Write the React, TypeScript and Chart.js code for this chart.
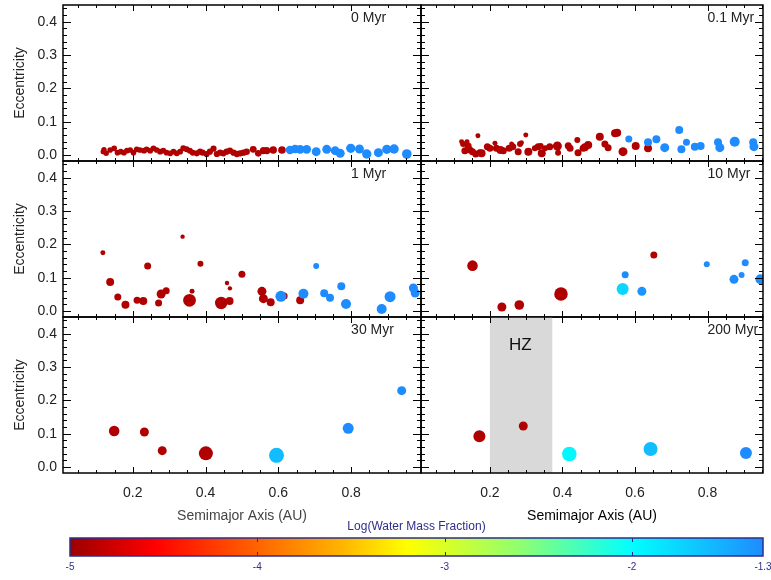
import React, { useEffect, useRef } from 'react';
import { Chart, registerables } from 'chart.js';

Chart.register(...registerables);

const FONT = '"Liberation Sans", Arial, Helvetica, sans-serif';
Chart.defaults.font.family = FONT;

// ---------------- data ----------------
const panelLabels = ['0 Myr', '0.1 Myr', '1 Myr', '10 Myr', '30 Myr', '200 Myr'];
const xTickVals = [0.2, 0.4, 0.6, 0.8];
const yTickVals = [0, 0.1, 0.2, 0.3, 0.4];
const cbTickVals = [-5, -4, -3, -2, -1.3];
const hzRange = [0.2, 0.372];
const cmapLog = [-5, -4.55, -4.0, -3.55, -3.2, -2.6, -2.0, -1.3];
const cmapHex = ['#9a0000', '#ff0000', '#ff6400', '#ffb400', '#ffff00', '#90ff70', '#00ffff', '#1e8cff'];

// 0 Myr : semimajor axis (AU), eccentricity, mass (Earth), log water mass fraction
const a0 = [0.119, 0.121, 0.127, 0.138, 0.149, 0.158, 0.167, 0.176, 0.184, 0.193, 0.202, 0.211, 0.220, 0.231, 0.238, 0.248, 0.257, 0.266, 0.275, 0.284, 0.293, 0.303, 0.312, 0.321, 0.330, 0.339, 0.348, 0.357, 0.365, 0.376, 0.385, 0.392, 0.403, 0.412, 0.422, 0.431, 0.440, 0.449, 0.458, 0.467, 0.477, 0.486, 0.495, 0.504, 0.513, 0.531, 0.545, 0.559, 0.568, 0.586, 0.610,
  0.632, 0.646, 0.660, 0.678, 0.704, 0.733, 0.756, 0.770, 0.799, 0.823, 0.843, 0.875, 0.898, 0.918, 0.953];
const e0 = [0.010, 0.016, 0.005, 0.015, 0.020, 0.007, 0.010, 0.007, 0.013, 0.015, 0.007, 0.017, 0.015, 0.013, 0.017, 0.013, 0.020, 0.015, 0.010, 0.013, 0.007, 0.005, 0.010, 0.005, 0.010, 0.020, 0.017, 0.013, 0.007, 0.005, 0.010, 0.007, 0.003, 0.010, 0.019, 0.003, 0.007, 0.005, 0.010, 0.013, 0.007, 0.003, 0.005, 0.007, 0.010, 0.017, 0.005, 0.013, 0.013, 0.015, 0.015,
  0.015, 0.018, 0.017, 0.017, 0.010, 0.017, 0.013, 0.005, 0.020, 0.018, 0.003, 0.007, 0.017, 0.018, 0.003];
const m0 = [0.26, 0.26, 0.28, 0.30, 0.30, 0.30, 0.30, 0.30, 0.30, 0.30, 0.30, 0.30, 0.32, 0.32, 0.32, 0.32, 0.32, 0.32, 0.32, 0.32, 0.32, 0.32, 0.34, 0.34, 0.34, 0.36, 0.36, 0.36, 0.36, 0.38, 0.38, 0.38, 0.40, 0.40, 0.40, 0.40, 0.40, 0.42, 0.42, 0.42, 0.42, 0.42, 0.44, 0.44, 0.46, 0.55, 0.50, 0.60, 0.62, 0.70, 0.75,
  1.00, 1.10, 1.10, 1.10, 1.20, 1.20, 1.10, 1.25, 1.30, 1.20, 1.40, 1.25, 1.30, 1.40, 1.50];
const w0 = [-4.9, -4.9, -4.9, -4.9, -4.9, -4.9, -4.9, -4.9, -4.9, -4.9, -4.9, -4.9, -4.9, -4.9, -4.9, -4.9, -4.9, -4.9, -4.9, -4.9, -4.9, -4.9, -4.9, -4.9, -4.9, -4.9, -4.9, -4.9, -4.9, -4.9, -4.9, -4.9, -4.9, -4.9, -4.9, -4.9, -4.9, -4.9, -4.9, -4.9, -4.9, -4.9, -4.9, -4.9, -4.9, -4.9, -4.9, -4.9, -4.9, -4.9, -4.9,
  -1.3, -1.3, -1.3, -1.3, -1.3, -1.3, -1.3, -1.3, -1.3, -1.3, -1.3, -1.3, -1.3, -1.3, -1.3];

// 0.1 Myr
const a01 = [0.122, 0.126, 0.131, 0.137, 0.140, 0.145, 0.152, 0.161, 0.167, 0.172, 0.177, 0.193, 0.200, 0.214, 0.218, 0.229, 0.237, 0.253, 0.260, 0.263, 0.278, 0.283, 0.287, 0.299, 0.306, 0.324, 0.333, 0.340, 0.343, 0.352, 0.365, 0.386, 0.388, 0.416, 0.421, 0.441, 0.443, 0.457, 0.462, 0.471, 0.503, 0.517, 0.526, 0.545, 0.551, 0.567, 0.602, 0.636,
  0.583, 0.636, 0.659, 0.682, 0.722, 0.728, 0.742, 0.765, 0.781, 0.829, 0.834, 0.875, 0.926, 0.928];
const e01 = [0.040, 0.033, 0.013, 0.040, 0.027, 0.015, 0.010, 0.003, 0.058, 0.007, 0.005, 0.025, 0.020, 0.035, 0.020, 0.015, 0.013, 0.020, 0.033, 0.025, 0.010, 0.033, 0.037, 0.060, 0.010, 0.020, 0.025, 0.027, 0.005, 0.020, 0.025, 0.027, 0.007, 0.028, 0.020, 0.045, 0.007, 0.020, 0.023, 0.030, 0.055, 0.033, 0.022, 0.065, 0.067, 0.010, 0.027, 0.020,
  0.048, 0.038, 0.047, 0.022, 0.075, 0.017, 0.038, 0.025, 0.027, 0.038, 0.022, 0.040, 0.038, 0.025];
const m01 = [0.21, 0.36, 0.58, 0.21, 0.58, 0.58, 0.58, 0.58, 0.21, 0.58, 0.86, 0.58, 0.58, 0.21, 0.58, 0.86, 0.58, 0.58, 0.21, 0.58, 0.58, 0.36, 0.21, 0.21, 0.86, 0.36, 0.58, 0.36, 0.86, 0.36, 0.58, 1.23, 0.36, 0.58, 0.58, 0.36, 0.58, 0.58, 0.86, 0.86, 0.86, 0.58, 0.58, 0.86, 0.86, 1.23, 0.86, 0.86,
  0.58, 0.86, 0.86, 1.23, 0.86, 0.86, 0.58, 0.86, 0.86, 0.86, 1.23, 1.69, 0.86, 1.23];
const w01 = [-4.9, -4.9, -4.9, -4.9, -4.9, -4.9, -4.9, -4.9, -4.9, -4.9, -4.9, -4.9, -4.9, -4.9, -4.9, -4.9, -4.9, -4.9, -4.9, -4.9, -4.9, -4.9, -4.9, -4.9, -4.9, -4.9, -4.9, -4.9, -4.9, -4.9, -4.9, -4.9, -4.9, -4.9, -4.9, -4.9, -4.9, -4.9, -4.9, -4.9, -4.9, -4.9, -4.9, -4.9, -4.9, -4.9, -4.9, -4.9,
  -1.3, -1.3, -1.3, -1.3, -1.3, -1.3, -1.3, -1.3, -1.3, -1.3, -1.3, -1.3, -1.3, -1.3];

// 1 Myr
const a1 = [0.118, 0.138, 0.159, 0.180, 0.212, 0.229, 0.241, 0.271, 0.278, 0.292, 0.337, 0.356, 0.363, 0.386, 0.443, 0.459, 0.466, 0.467, 0.500, 0.555, 0.559, 0.579, 0.616, 0.660,
  0.607, 0.669, 0.704, 0.726, 0.742, 0.773, 0.786, 0.884, 0.907, 0.971, 0.976];
const e1 = [0.175, 0.087, 0.042, 0.019, 0.032, 0.030, 0.135, 0.024, 0.051, 0.061, 0.223, 0.032, 0.059, 0.142, 0.024, 0.084, 0.030, 0.068, 0.110, 0.059, 0.037, 0.026, 0.045, 0.032,
  0.044, 0.052, 0.135, 0.053, 0.040, 0.074, 0.021, 0.006, 0.043, 0.069, 0.054];
const m1 = [0.21, 0.86, 0.58, 0.86, 0.58, 0.86, 0.58, 0.58, 1.23, 0.58, 0.14, 3.5, 0.21, 0.36, 3.2, 0.14, 0.86, 0.14, 0.58, 1.23, 1.23, 0.86, 0.58, 0.86,
  2.25, 1.69, 0.36, 0.86, 0.86, 0.86, 1.69, 1.69, 2.25, 1.23, 1.23];
const w1 = [-4.9, -4.9, -4.9, -4.9, -4.9, -4.9, -4.9, -4.9, -4.9, -4.9, -4.9, -4.9, -4.9, -4.9, -4.9, -4.9, -4.9, -4.9, -4.9, -4.9, -4.9, -4.9, -4.9, -4.9,
  -1.3, -1.3, -1.3, -1.3, -1.3, -1.3, -1.3, -1.3, -1.3, -1.3, -1.3];

// 10 Myr
const a10 = [0.152, 0.233, 0.281, 0.396, 0.652, 0.566, 0.573, 0.619, 0.798, 0.873, 0.894, 0.904, 0.946];
const e10 = [0.136, 0.012, 0.018, 0.051, 0.168, 0.066, 0.109, 0.059, 0.140, 0.095, 0.108, 0.145, 0.095];
const m10 = [2.0, 1.23, 1.50, 4.2, 0.58, 2.92, 0.58, 1.23, 0.36, 1.23, 0.36, 0.58, 1.69];
const w10 = [-4.9, -4.9, -4.9, -4.9, -4.9, -1.75, -1.3, -1.35, -1.3, -1.3, -1.3, -1.3, -1.3];

// 30 Myr
const a30 = [0.149, 0.232, 0.281, 0.401, 0.595, 0.792, 0.939];
const e30 = [0.108, 0.105, 0.049, 0.041, 0.035, 0.116, 0.229];
const m30 = [2.0, 1.23, 1.23, 4.63, 5.69, 2.25, 1.23];
const w30 = [-4.9, -4.9, -4.9, -4.9, -1.6, -1.3, -1.3];

// 200 Myr
const a200 = [0.171, 0.292, 0.419, 0.643, 0.906];
const e200 = [0.092, 0.123, 0.039, 0.054, 0.042];
const m200 = [2.92, 1.23, 5.2, 4.63, 2.92];
const w200 = [-4.9, -4.9, -1.95, -1.6, -1.25];

const panelA = [a0, a01, a1, a10, a30, a200];
const panelE = [e0, e01, e1, e10, e30, e200];
const panelM = [m0, m01, m1, m10, m30, m200];
const panelW = [w0, w01, w1, w10, w30, w200];

// ---------------- helpers ----------------
function hexToRgb(h: string) {
  const n = parseInt(h.slice(1), 16);
  return [(n >> 16) & 255, (n >> 8) & 255, n & 255];
}
function colorFor(v: number) {
  if (v <= cmapLog[0]) return cmapHex[0];
  const last = cmapLog.length - 1;
  if (v >= cmapLog[last]) return cmapHex[last];
  for (let i = 0; i < last; i++) {
    if (v <= cmapLog[i + 1]) {
      const t = (v - cmapLog[i]) / (cmapLog[i + 1] - cmapLog[i]);
      const c0 = hexToRgb(cmapHex[i]);
      const c1 = hexToRgb(cmapHex[i + 1]);
      const c = c0.map((c, k) => Math.round(c + (c1[k] - c) * t));
      return `rgb(${c[0]},${c[1]},${c[2]})`;
    }
  }
  return cmapHex[last];
}
function radiusFor(m: number) {
  return 4.2 * Math.cbrt(m);
}

// ---------------- layout ----------------
const COLS = [
  { l: 63, r: 421, min: 0.0084, max: 0.992 },
  { l: 421, r: 763, min: 0.01, max: 0.953 },
];
const PANEL_TOP = 5;
const PANEL_H = 156;
const Y_MIN = -0.018;
const Y_MAX = 0.45;
const PAD = 4;
const X_AXIS_BOTTOM = 530;
const LABEL_POS = [0.8, 0.41];
const HZ_LABEL_POS = [0.284, 0.366];

function panelGeom(i: number) {
  const row = Math.floor(i / 2);
  const col = i % 2;
  const C = COLS[col];
  const top = PANEL_TOP + PANEL_H * row;
  const x = col === 0 ? 0 : C.l - PAD;
  const y = top - PAD;
  const w = C.r + PAD - x;
  const h = (row === 2 ? X_AXIS_BOTTOM : top + PANEL_H + PAD) - y;
  return { row, col, x, y, w, h, top };
}

function panelPlugin(label: string, hz: boolean) {
  return {
    id: 'panelDeco',
    beforeDatasetsDraw(chart: any) {
      if (!hz) return;
      const { ctx, chartArea: ca, scales } = chart;
      const x0 = scales.x.getPixelForValue(hzRange[0]);
      const x1 = scales.x.getPixelForValue(hzRange[1]);
      ctx.save();
      ctx.fillStyle = '#d9d9d9';
      ctx.fillRect(x0, ca.top, x1 - x0, ca.bottom - ca.top);
      ctx.restore();
    },
    afterDatasetsDraw(chart: any) {
      const { ctx, chartArea: ca, scales } = chart;
      const xs = scales.x;
      const ys = scales.y;
      ctx.save();
      ctx.strokeStyle = '#000';
      ctx.lineWidth = 1;
      ctx.beginPath();
      for (let k = 1; k < 20; k++) {
        const px = xs.getPixelForValue(k * 0.05);
        if (px <= ca.left + 1 || px >= ca.right - 1) continue;
        const L = k % 4 === 0 ? 6 : 3;
        const X = Math.round(px) + 0.5;
        ctx.moveTo(X, ca.bottom);
        ctx.lineTo(X, ca.bottom - L);
        ctx.moveTo(X, ca.top);
        ctx.lineTo(X, ca.top + L);
      }
      for (let k = 0; k <= 22; k++) {
        const py = ys.getPixelForValue(k * 0.02);
        if (py <= ca.top + 1 || py >= ca.bottom - 1) continue;
        const L = k % 5 === 0 ? 8 : 4;
        const Y = Math.round(py) + 0.5;
        ctx.moveTo(ca.left, Y);
        ctx.lineTo(ca.left + L, Y);
        ctx.moveTo(ca.right, Y);
        ctx.lineTo(ca.right - L, Y);
      }
      ctx.stroke();
      ctx.lineWidth = 1.5;
      ctx.strokeRect(ca.left, ca.top, ca.right - ca.left, ca.bottom - ca.top);
      ctx.fillStyle = '#222';
      ctx.font = `14px ${FONT}`;
      ctx.textAlign = 'left';
      ctx.textBaseline = 'middle';
      ctx.fillText(label, xs.getPixelForValue(LABEL_POS[0]), ys.getPixelForValue(LABEL_POS[1]));
      if (hz) {
        ctx.font = `17px ${FONT}`;
        ctx.textAlign = 'center';
        ctx.fillStyle = '#111';
        ctx.fillText('HZ', xs.getPixelForValue(HZ_LABEL_POS[0]), ys.getPixelForValue(HZ_LABEL_POS[1]));
      }
      ctx.restore();
    },
  };
}

function panelConfig(i: number): any {
  const g = panelGeom(i);
  const C = COLS[g.col];
  const bottomRow = g.row === 2;
  const a = panelA[i];
  const e = panelE[i];
  return {
    type: 'scatter',
    data: {
      datasets: [
        {
          data: a.map((v, k) => ({ x: v, y: e[k] })),
          backgroundColor: panelW[i].map(colorFor),
          pointRadius: panelM[i].map(radiusFor),
          pointHoverRadius: panelM[i].map(radiusFor),
          pointBorderWidth: 0,
          borderWidth: 0,
        },
      ],
    },
    options: {
      responsive: false,
      animation: false,
      events: [],
      layout: {
        autoPadding: false,
        padding: { left: g.col === 0 ? 0 : PAD, right: PAD, top: PAD, bottom: bottomRow ? 0 : PAD },
      },
      plugins: { legend: { display: false }, tooltip: { enabled: false } },
      scales: {
        x: {
          type: 'linear',
          min: C.min,
          max: C.max,
          display: bottomRow,
          grid: { display: false, drawTicks: false },
          border: { display: false },
          afterBuildTicks: (s: any) => {
            s.ticks = xTickVals.map((v) => ({ value: v }));
          },
          afterFit: (s: any) => {
            if (!bottomRow) return;
            s.height = X_AXIS_BOTTOM - (g.top + PANEL_H);
            s.paddingLeft = 0;
            s.paddingRight = 0;
          },
          ticks: {
            padding: 11.5,
            color: '#222',
            font: { size: 14, family: FONT },
            callback: (v: any) => Number(v).toFixed(1),
          },
          title: {
            display: true,
            text: 'Semimajor Axis (AU)',
            color: g.col === 0 ? '#444' : '#000',
            font: { size: 14, family: FONT },
            padding: { top: 0, bottom: 5.6 },
          },
        },
        y: {
          type: 'linear',
          min: Y_MIN,
          max: Y_MAX,
          display: g.col === 0,
          grid: { display: false, drawTicks: false },
          border: { display: false },
          afterBuildTicks: (s: any) => {
            s.ticks = yTickVals.map((v) => ({ value: v }));
          },
          afterFit: (s: any) => {
            if (g.col !== 0) return;
            s.width = C.l;
            s.paddingTop = 0;
            s.paddingBottom = 0;
          },
          ticks: {
            padding: 6,
            color: '#222',
            font: { size: 14, family: FONT },
            callback: (v: any) => Number(v).toFixed(1),
          },
          title: {
            display: true,
            text: 'Eccentricity',
            color: '#222',
            font: { size: 14, family: FONT },
            padding: { top: 12, bottom: 0 },
          },
        },
      },
    },
    plugins: [panelPlugin(panelLabels[i], i === 5)],
  };
}

const CB = { x: 62, y: 519, w: 709, h: 61 };
const NAVY = '#2e2e8c';

const colorbarPlugin = {
  id: 'cbar',
  afterDraw(chart: any) {
    const { ctx, chartArea: ca, scales } = chart;
    const xs = scales.x;
    const x0 = xs.getPixelForValue(cbTickVals[0]);
    const x1 = xs.getPixelForValue(cbTickVals[cbTickVals.length - 1]);
    ctx.save();
    const grad = ctx.createLinearGradient(x0, 0, x1, 0);
    cmapLog.forEach((v, k) => {
      grad.addColorStop(Math.min(1, Math.max(0, (xs.getPixelForValue(v) - x0) / (x1 - x0))), cmapHex[k]);
    });
    ctx.fillStyle = grad;
    ctx.fillRect(ca.left, ca.top, ca.right - ca.left, ca.bottom - ca.top);
    ctx.strokeStyle = NAVY;
    ctx.lineWidth = 1;
    ctx.beginPath();
    cbTickVals.slice(1, -1).forEach((v) => {
      const X = Math.round(xs.getPixelForValue(v)) + 0.5;
      ctx.moveTo(X, ca.top);
      ctx.lineTo(X, ca.top + 4);
      ctx.moveTo(X, ca.bottom);
      ctx.lineTo(X, ca.bottom - 4);
    });
    ctx.stroke();
    ctx.lineWidth = 1.5;
    ctx.strokeRect(ca.left, ca.top, ca.right - ca.left, ca.bottom - ca.top);
    ctx.restore();
  },
};

function colorbarConfig(): any {
  return {
    type: 'scatter',
    data: { datasets: [] },
    options: {
      responsive: false,
      animation: false,
      events: [],
      layout: { autoPadding: false, padding: { left: 8, right: 8, top: 0, bottom: 0 } },
      plugins: {
        legend: { display: false },
        tooltip: { enabled: false },
        title: {
          display: true,
          text: 'Log(Water Mass Fraction)',
          color: NAVY,
          font: { size: 12, family: FONT, weight: 'normal' },
          padding: { top: 0, bottom: 4.6 },
        },
      },
      scales: {
        x: {
          type: 'linear',
          min: cbTickVals[0],
          max: cbTickVals[cbTickVals.length - 1],
          grid: { display: false, drawTicks: false },
          border: { display: false },
          afterBuildTicks: (s: any) => {
            s.ticks = cbTickVals.map((v) => ({ value: v }));
          },
          afterFit: (s: any) => {
            s.height = 24;
            s.paddingLeft = 0;
            s.paddingRight = 0;
          },
          ticks: {
            padding: 5,
            color: NAVY,
            font: { size: 10, family: FONT },
            callback: (v: any) => String(v),
          },
        },
        y: { type: 'linear', min: 0, max: 1, display: false },
      },
    },
    plugins: [colorbarPlugin],
  };
}

export default function App() {
  const refs = useRef<(HTMLCanvasElement | null)[]>([]);
  useEffect(() => {
    const charts: Chart[] = [];
    for (let i = 0; i < 6; i++) {
      const c = refs.current[i];
      if (c) charts.push(new Chart(c, panelConfig(i)));
    }
    const cb = refs.current[6];
    if (cb) charts.push(new Chart(cb, colorbarConfig()));
    return () => charts.forEach((c) => c.destroy());
  }, []);
  return (
    <div style={{ position: 'fixed', left: 0, top: 0, width: 771, height: 580, background: '#fff', overflow: 'hidden' }}>
      {panelLabels.map((_, i) => {
        const g = panelGeom(i);
        return (
          <canvas
            key={i}
            ref={(el) => {
              refs.current[i] = el;
            }}
            width={g.w}
            height={g.h}
            style={{ position: 'absolute', left: g.x, top: g.y, width: g.w, height: g.h }}
          />
        );
      })}
      <canvas
        ref={(el) => {
          refs.current[6] = el;
        }}
        width={CB.w}
        height={CB.h}
        style={{ position: 'absolute', left: CB.x, top: CB.y, width: CB.w, height: CB.h }}
      />
    </div>
  );
}
